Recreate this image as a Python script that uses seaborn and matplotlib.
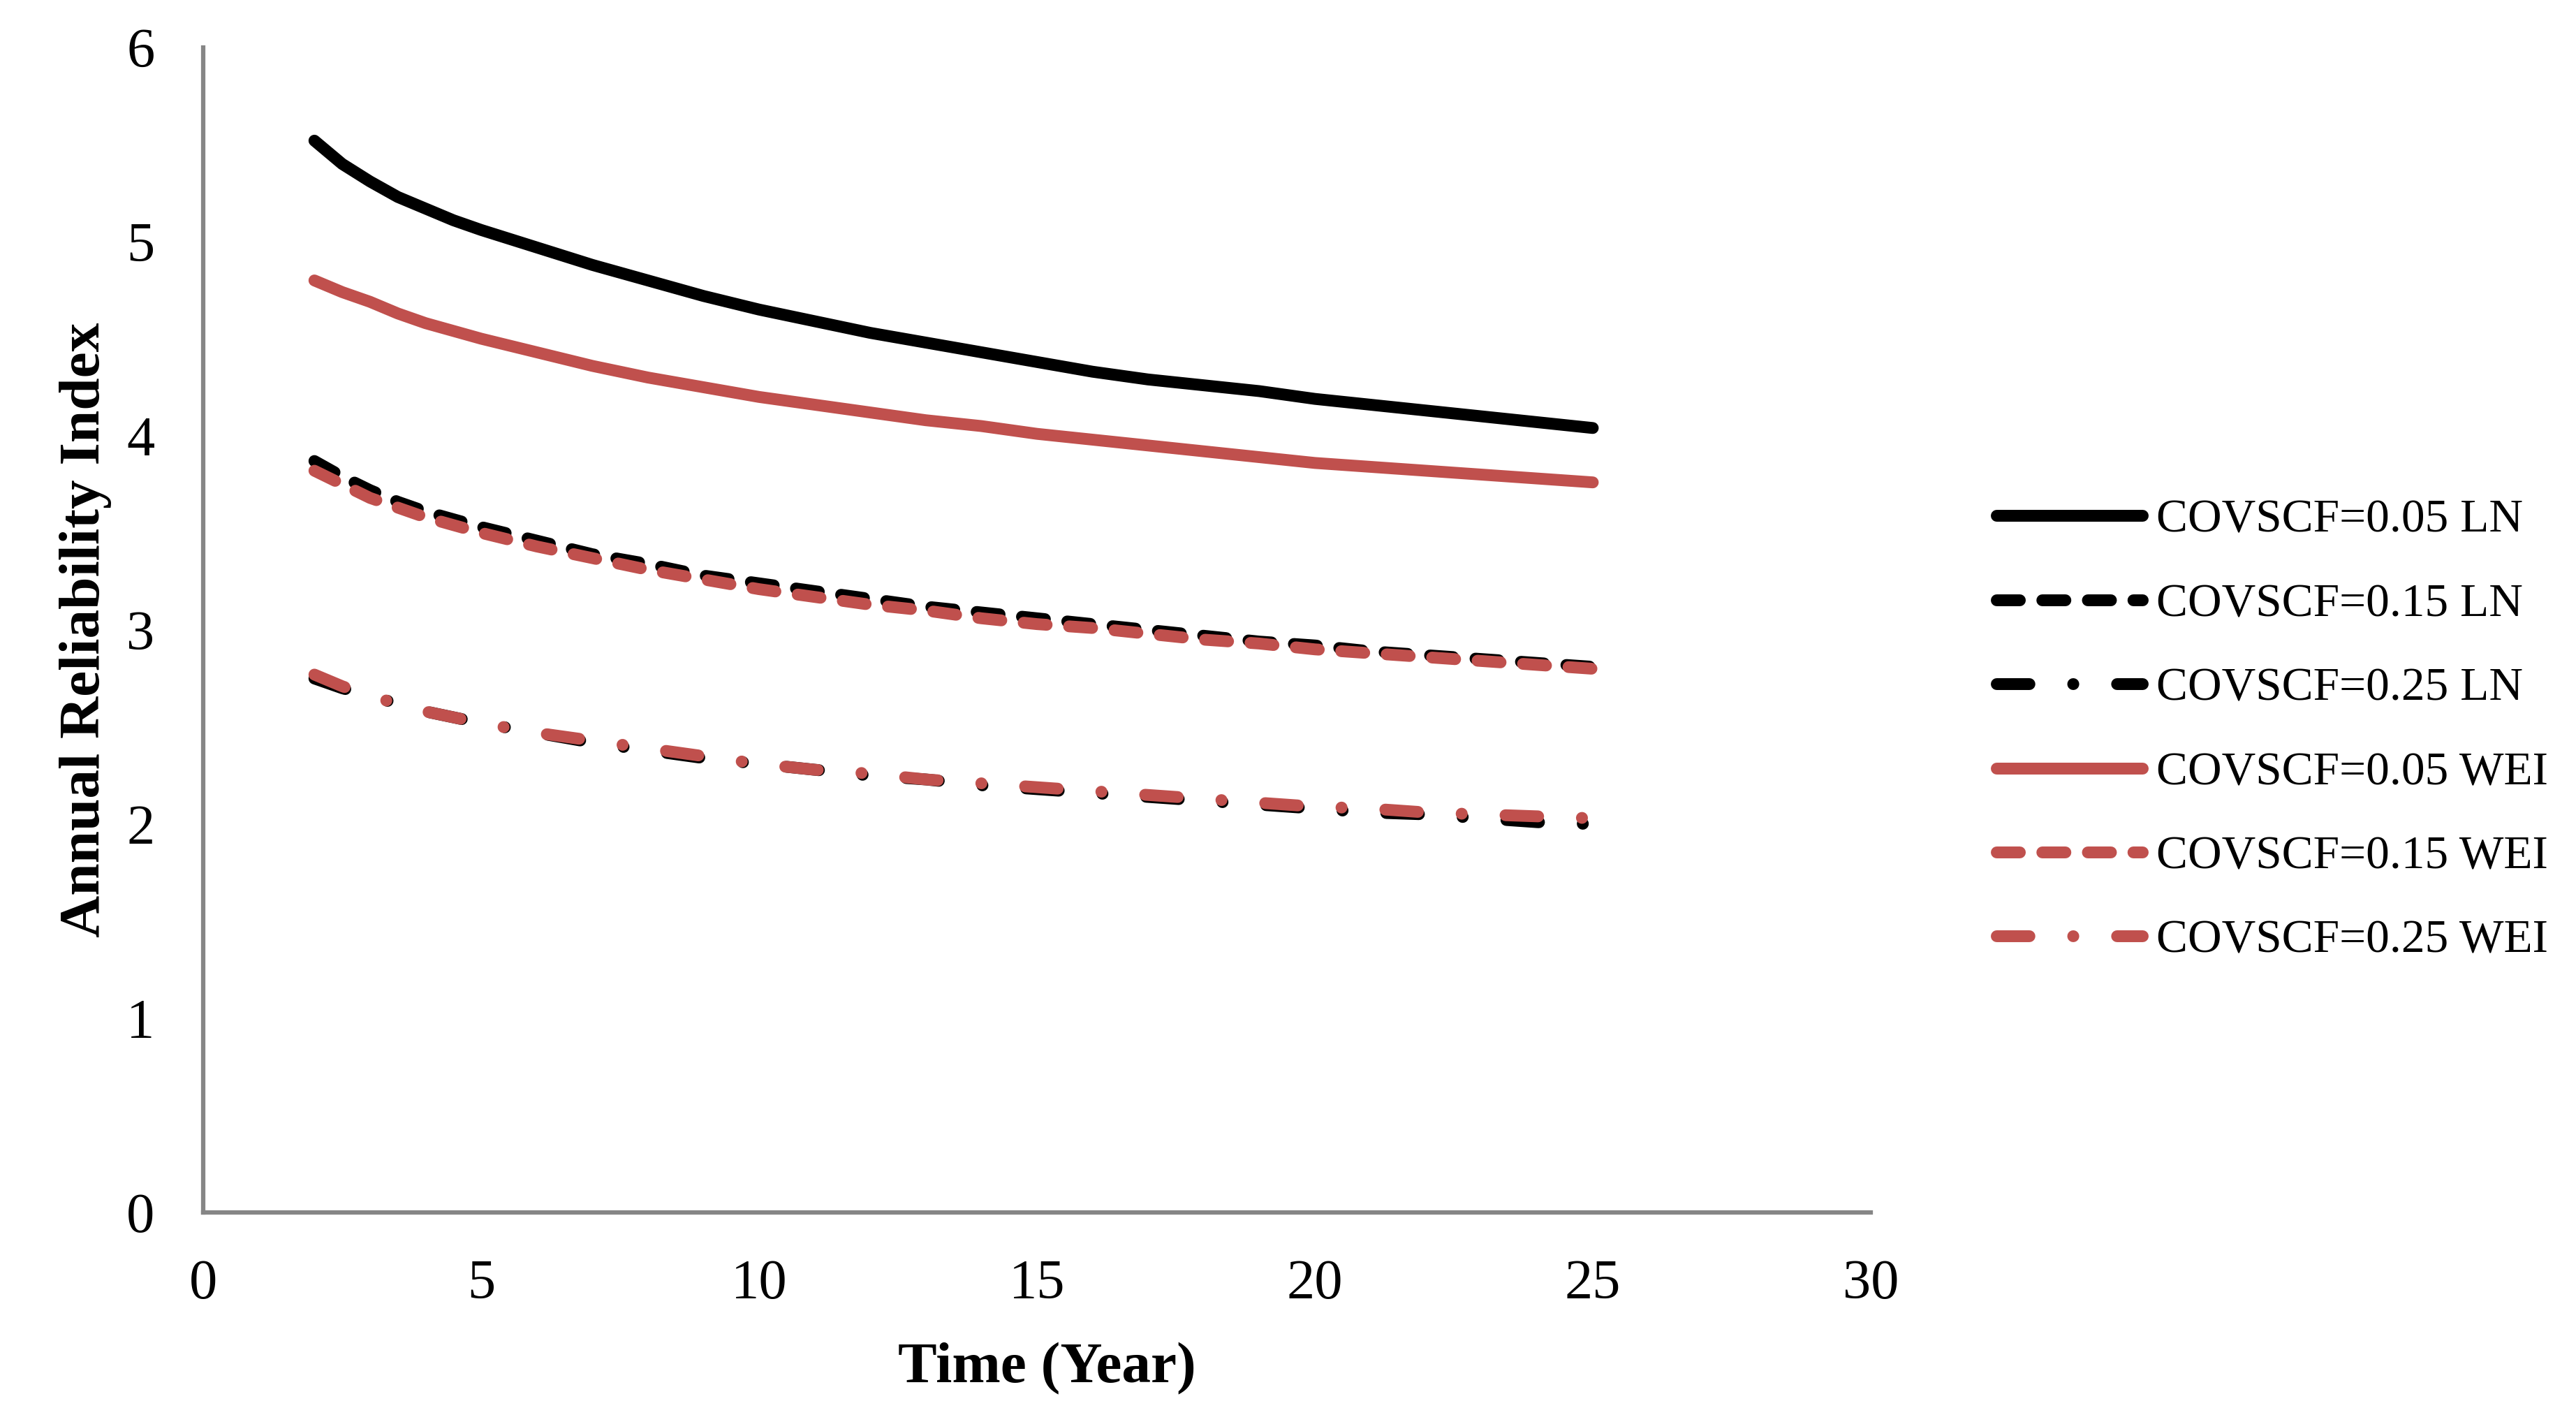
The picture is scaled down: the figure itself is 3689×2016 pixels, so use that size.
import pandas as pd
import seaborn as sns
import matplotlib.pyplot as plt

# reliability index (years 2..25, a few half years
# at the steep start of the solid curves)
years = [2, 2.5, 3, 3.5, 4, 4.5, 5, 6, 7, 8, 9, 10, 11, 12, 13, 14, 15, 16,
         17, 18, 19, 20, 21, 22, 23, 24, 25]
ln_005 = [5.52, 5.40, 5.31, 5.23, 5.17, 5.11, 5.06, 4.97, 4.88, 4.80, 4.72, 4.65,
          4.59, 4.53, 4.48, 4.43, 4.38, 4.33, 4.29, 4.26, 4.23, 4.19, 4.16, 4.13,
          4.10, 4.07, 4.04]
ln_015 = [3.87, 3.79, 3.72, 3.66, 3.61, 3.57, 3.53, 3.46, 3.39, 3.34, 3.28, 3.24,
          3.20, 3.16, 3.12, 3.09, 3.06, 3.03, 3.00, 2.97, 2.94, 2.92, 2.89, 2.87,
          2.85, 2.83, 2.81]
ln_025 = [2.75, 2.70, 2.66, 2.62, 2.58, 2.55, 2.52, 2.47, 2.42, 2.38, 2.34, 2.31,
          2.28, 2.25, 2.23, 2.20, 2.18, 2.16, 2.14, 2.12, 2.10, 2.08, 2.06, 2.05,
          2.03, 2.01, 2.00]
wei_005 = [4.80, 4.74, 4.69, 4.63, 4.58, 4.54, 4.50, 4.43, 4.36, 4.30, 4.25, 4.20,
           4.16, 4.12, 4.08, 4.05, 4.01, 3.98, 3.95, 3.92, 3.89, 3.86, 3.84, 3.82,
           3.80, 3.78, 3.76]
wei_015 = [3.82, 3.75, 3.68, 3.63, 3.58, 3.54, 3.50, 3.43, 3.37, 3.31, 3.26, 3.21,
           3.17, 3.13, 3.10, 3.06, 3.03, 3.01, 2.98, 2.95, 2.93, 2.90, 2.88, 2.86,
           2.84, 2.82, 2.80]
wei_025 = [2.77, 2.71, 2.66, 2.62, 2.58, 2.55, 2.52, 2.47, 2.43, 2.39, 2.35, 2.31,
           2.28, 2.26, 2.23, 2.21, 2.19, 2.17, 2.15, 2.13, 2.11, 2.09, 2.08, 2.06,
           2.05, 2.04, 2.03]

labels = ['COVSCF=0.05 LN', 'COVSCF=0.15 LN', 'COVSCF=0.25 LN',
          'COVSCF=0.05 WEI', 'COVSCF=0.15 WEI', 'COVSCF=0.25 WEI']
series = [ln_005, ln_015, ln_025, wei_005, wei_015, wei_025]

# long form table for seaborn
df = pd.concat([pd.DataFrame({'year': years, 'beta': vals, 'series': lab})
                for lab, vals in zip(labels, series)], ignore_index=True)

black = '#000000'
red = '#C0504D'
axis_grey = '#868686'
palette = dict(zip(labels, [black, black, black, red, red, red]))
solid = ''
dashed = (1.95, 1.9)
dashdot = (2.76, 3.7, 0.01, 3.7)
dash_map = dict(zip(labels, [solid, dashed, dashdot, solid, dashed, dashdot]))

sns.set_style('white')
plt.rcParams['font.family'] = ['Liberation Serif', 'DejaVu Serif']
plt.rcParams['text.color'] = 'black'
plt.rcParams['axes.labelcolor'] = 'black'

fig = plt.figure(figsize=(36.89, 20.16), dpi=100)
ax = fig.add_axes([0.0789, 0.1389, 0.6473, 0.8274])

sns.lineplot(data=df, x='year', y='beta', hue='series', style='series',
             hue_order=labels, style_order=labels, palette=palette,
             dashes=dash_map, linewidth=12.2, legend=False, ax=ax,
             solid_capstyle='round', dash_capstyle='round',
             solid_joinstyle='round')

ax.set_xlim(0, 30)
ax.set_ylim(0, 6)
ax.set_xticks(range(0, 31, 5))
ax.set_yticks(range(0, 7))

for side in ['top', 'right']:
    ax.spines[side].set_visible(False)
for side in ['left', 'bottom']:
    ax.spines[side].set_color(axis_grey)
    ax.spines[side].set_linewidth(4.5)

ax.tick_params(axis='both', direction='out', length=16, width=3.5,
               color=axis_grey, labelsize=58, labelcolor='black')
ax.tick_params(axis='x', pad=32)
ax.tick_params(axis='y', pad=34)

ax.set_xlabel('Time (Year)', fontsize=60, fontweight='bold', color='black')
ax.set_ylabel('Annual Reliability Index', fontsize=60, fontweight='bold',
              color='black')
ax.xaxis.set_label_coords(0.506, -0.112)
ax.yaxis.set_label_coords(-0.055, 0.5)

handles = ax.get_lines()[:6]
fig.legend(handles, labels, loc='center left', bbox_to_anchor=(0.775, 0.481),
           frameon=False, fontsize=48.5, handlelength=3.1, handletextpad=0.3,
           labelspacing=0.88, borderpad=0, borderaxespad=0)

fig.savefig('out.png', dpi=100, facecolor='white')
